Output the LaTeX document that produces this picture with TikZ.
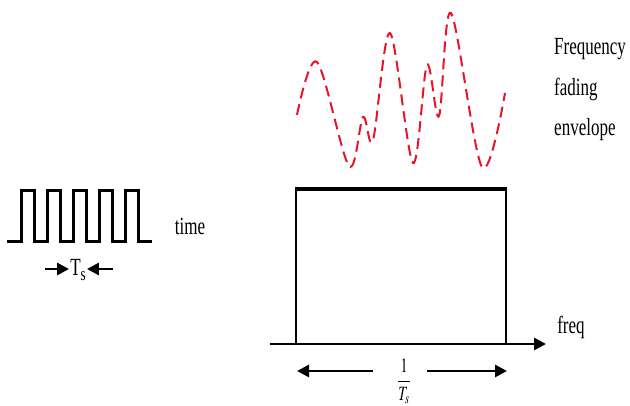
\documentclass[tikz,border=0pt]{standalone}
\usepackage{mathptmx}
\usepackage{fontspec}
\setmainfont{Liberation Serif}
\usepackage{graphicx}
\usetikzlibrary{arrows.meta, positioning, calc}
\definecolor{fadered}{RGB}{232, 20, 40}

\newcommand{\tall}[1]{\scalebox{1}[1.45]{#1}}

\begin{document}
\begin{tikzpicture}[x=1pt, y=-1pt,
  sig/.style={line width=3pt, line join=miter},
  arr/.style={-{Triangle[length=12pt, width=12pt]}, line width=2.8pt},
  lbl/.style={font=\fontsize{17}{27.6}\selectfont, inner sep=0pt}
]
  \useasboundingbox (0,0) rectangle (630,406);

  % pulse train in time
  \draw[sig] (7,242) foreach \x in {21,47,73,99,125} {
      -- (\x,242) -- (\x,191) -- (\x+13,191) -- (\x+13,242) } -- (152,242);
  \node[lbl] (time) at (190,226) {\tall{time}};

  % symbol period
  \node[lbl] (ts) at (78,270) {\tall{T\raisebox{-0.45ex}{\fontsize{13}{13}\selectfont s}}};
  \coordinate (tsl) at (45,269);
  \coordinate (tsr) at (113,269);
  \draw[arr] (tsl) -- ([xshift=-1pt]ts.west |- tsl);
  \draw[arr] (tsr) -- ([xshift=1pt]ts.east |- tsr);

  % signal band in freq
  \node[draw, line width=2.5pt, minimum width=210pt, minimum height=154pt,
        inner sep=0pt] (band) at (401,267) {};
  \draw[line width=4pt] (band.north west) -- (band.north east);
  \coordinate (f0) at (270,344);
  \coordinate (f1) at (546,344);
  \draw[arr] (f0) -- (f1);
  \node[lbl] (freq) at (571,327) {\tall{freq}};

  % bandwidth
  \node[lbl] (bw) at (404,381) {\tall{\fontsize{14}{14}\selectfont$\displaystyle\frac{1}{T_s}$}};
  \coordinate (bwl) at (297,371);
  \coordinate (bwr) at (507,371);
  \draw[arr] (373,371) -- (bwl);
  \draw[arr] (427,371) -- (bwr);

  % fading envelope
  \draw[fadered, line width=2pt, dash pattern=on 11pt off 6pt]
    plot[smooth, tension=0.55] coordinates {(297,115) (317,62) (349,166)
      (363,117) (373,140) (390,33) (413,163) (427,65) (439,116) (451,13)
      (482,167) (505,93)};
  \node[lbl, anchor=west, align=left] (env) at (554,87)
    {\tall{\begin{tabular}{@{}l@{}}Frequency\\fading\\envelope\end{tabular}}};
\end{tikzpicture}
\end{document}
